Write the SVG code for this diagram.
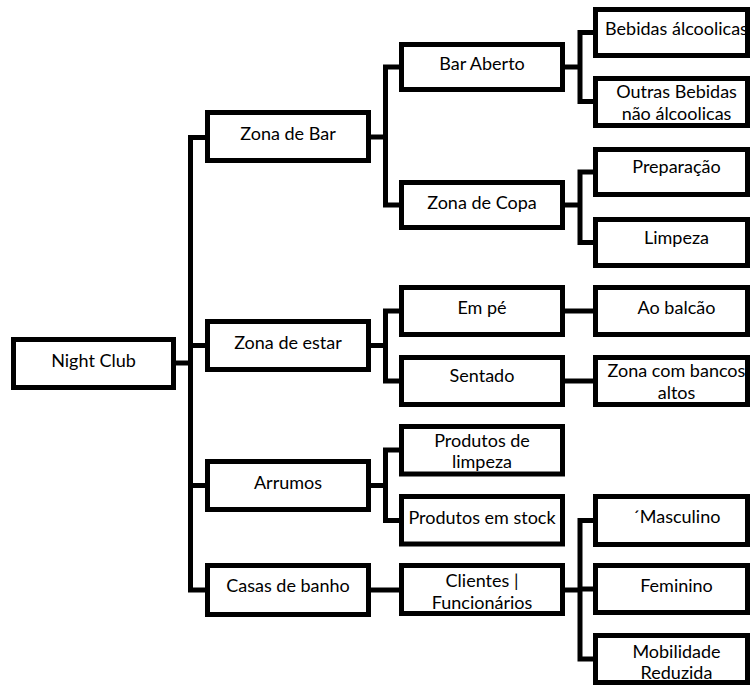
<svg xmlns="http://www.w3.org/2000/svg" width="750" height="686" viewBox="0 0 750 686">
<style>
.box{fill:#fff;stroke:#000;stroke-width:5}
.con{fill:none;stroke:#000;stroke-width:5;stroke-linejoin:miter}
text{font-family:Lato,"Open Sans",sans-serif;font-size:18px;fill:#000;text-anchor:middle}
</style>
<rect width="750" height="686" fill="#fff"/>
<g id="connectors" class="con">
<path d="M176 363 H190.5"/>
<path d="M205 137.5 H190.5 V590 H205"/>
<path d="M190.5 345.5 H205"/>
<path d="M190.5 485.5 H205"/>
<path d="M371 137 H385.5"/>
<path d="M399 67 H385.5 V205 H399"/>
<path d="M565 67 H580"/>
<path d="M593 32.5 H580 V101.5 H593"/>
<path d="M565 205 H580"/>
<path d="M593 172 H580 V242.5 H593"/>
<path d="M371 345.5 H385.5"/>
<path d="M399 311 H385.5 V381 H399"/>
<path d="M565 311 H593"/>
<path d="M565 381 H593"/>
<path d="M371 485.5 H385.5"/>
<path d="M399 450 H385.5 V520.5 H399"/>
<path d="M371 590 H399"/>
<path d="M565 590 H580"/>
<path d="M593 520.5 H580 V659 H593"/>
<path d="M580 589 H593"/>
</g>
<g id="night-club"><rect class="box" x="13.5" y="339.5" width="160" height="48"/><text x="93.5" y="367">Night Club</text></g>
<g id="zona-de-bar"><rect class="box" x="207.5" y="112.5" width="161" height="48"/><text x="288" y="140">Zona de Bar</text></g>
<g id="zona-de-estar"><rect class="box" x="207.5" y="321.5" width="161" height="48"/><text x="288" y="348.5">Zona de estar</text></g>
<g id="arrumos"><rect class="box" x="207.5" y="461.5" width="161" height="48"/><text x="288" y="488.5">Arrumos</text></g>
<g id="casas-de-banho"><rect class="box" x="207.5" y="565.5" width="161" height="49"/><text x="288" y="592">Casas de banho</text></g>
<g id="bar-aberto"><rect class="box" x="401.5" y="44.5" width="161" height="45"/><text x="482" y="70">Bar Aberto</text></g>
<g id="zona-de-copa"><rect class="box" x="401.5" y="182.5" width="161" height="45"/><text x="482" y="208.5">Zona de Copa</text></g>
<g id="em-pe"><rect class="box" x="401.5" y="287.5" width="161" height="47"/><text x="482" y="313.5">Em pé</text></g>
<g id="sentado"><rect class="box" x="401.5" y="357.5" width="161" height="47"/><text x="482" y="381.5">Sentado</text></g>
<g id="produtos-de-limpeza"><rect class="box" x="401.5" y="426.5" width="161" height="47.5"/><text x="482" y="446.5">Produtos de</text><text x="482" y="467.5">limpeza</text></g>
<g id="produtos-em-stock"><rect class="box" x="401.5" y="496.5" width="161" height="47.5"/><text x="482" y="523.5">Produtos em stock</text></g>
<g id="clientes-funcionarios"><rect class="box" x="401.5" y="565.5" width="161" height="48"/><text x="482" y="586.5">Clientes |</text><text x="482" y="608.5">Funcionários</text></g>
<g id="bebidas-alcoolicas"><rect class="box" x="595.5" y="9.5" width="152" height="46"/><text x="676.5" y="35">Bebidas álcoolicas</text></g>
<g id="outras-bebidas"><rect class="box" x="595.5" y="78.5" width="152" height="47"/><text x="676.5" y="98">Outras Bebidas</text><text x="676.5" y="120">não álcoolicas</text></g>
<g id="preparacao"><rect class="box" x="595.5" y="149.5" width="152" height="45"/><text x="676.5" y="173">Preparação</text></g>
<g id="limpeza"><rect class="box" x="595.5" y="219.5" width="152" height="46"/><text x="676.5" y="243.5">Limpeza</text></g>
<g id="ao-balcao"><rect class="box" x="595.5" y="287.5" width="152" height="47"/><text x="676.5" y="313.5">Ao balcão</text></g>
<g id="zona-com-bancos-altos"><rect class="box" x="595.5" y="357.5" width="152" height="47"/><text x="676.5" y="376.5">Zona com bancos</text><text x="676.5" y="398.5">altos</text></g>
<g id="masculino"><rect class="box" x="595.5" y="496.5" width="152" height="48"/><text x="676.5" y="522.5">´Masculino</text></g>
<g id="feminino"><rect class="box" x="595.5" y="565.5" width="152" height="47"/><text x="676.5" y="591.5">Feminino</text></g>
<g id="mobilidade-reduzida"><rect class="box" x="595.5" y="635.5" width="152" height="47"/><text x="676.5" y="658">Mobilidade</text><text x="676.5" y="678.5">Reduzida</text></g>
</svg>
